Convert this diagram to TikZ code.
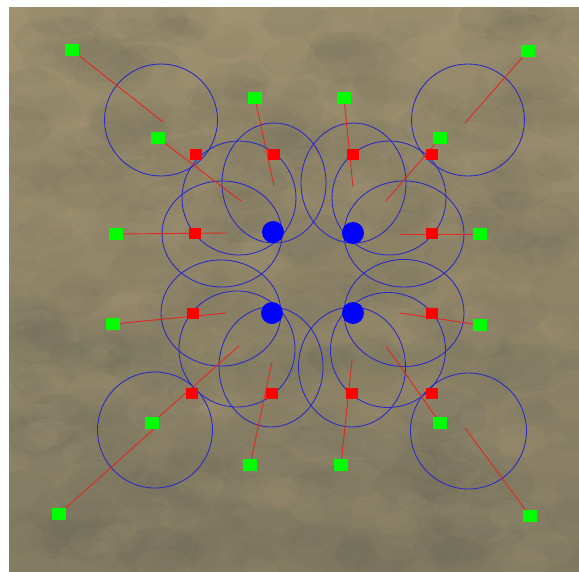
\documentclass[tikz,border=0pt]{standalone}
\begin{document}
\definecolor{bgtop}{RGB}{158,144,112}
\definecolor{bgbot}{RGB}{132,124,98}
\definecolor{camodark}{RGB}{95,98,85}
\definecolor{camolight}{RGB}{188,168,130}
\definecolor{ellblue}{RGB}{40,40,200}
\definecolor{linkred}{RGB}{225,40,35}
\definecolor{gsqcol}{RGB}{0,255,0}
\definecolor{rsqcol}{RGB}{255,0,0}
\begin{tikzpicture}[x=1pt,y=-1pt,
  gsq/.style={fill=gsqcol, minimum width=14pt, minimum height=12pt, inner sep=0pt},
  rsq/.style={fill=rsqcol, minimum width=12pt, minimum height=11pt, inner sep=0pt},
  bdot/.style={circle, fill=blue, minimum size=22pt, inner sep=0pt},
  ell/.style={draw=ellblue, line width=0.85pt},
  link/.style={draw=linkred, line width=0.9pt}]
\useasboundingbox (0,0) rectangle (579,571);
\fill[white] (0,0) rectangle (579,571);
% textured background
\begin{scope}
\clip (9,7) rectangle (579,571);
\shade[top color=bgtop, bottom color=bgbot] (9,7) rectangle (579,571);
\pgfmathsetseed{12}
\foreach \i in {1,...,450}{
  \pgfmathsetmacro\bx{9+570*rnd}
  \pgfmathsetmacro\by{7+564*rnd}
  \pgfmathsetmacro\br{14+30*rnd}
  \pgfmathsetmacro\bry{0.6*\br}
  \fill[camodark, opacity=0.06] (\bx,\by) ellipse [x radius=\br pt, y radius=\bry pt];
}
\foreach \i in {1,...,160}{
  \pgfmathsetmacro\bx{9+570*rnd}
  \pgfmathsetmacro\by{7+564*rnd}
  \pgfmathsetmacro\br{10+20*rnd}
  \pgfmathsetmacro\bry{0.6*\br}
  \fill[camolight, opacity=0.07] (\bx,\by) ellipse [x radius=\br pt, y radius=\bry pt];
}
\end{scope}
% ellipses
\draw[ell] (161,120) ellipse [x radius=56.5pt, y radius=56pt];
\draw[ell] (239,198) ellipse [x radius=57pt, y radius=57pt];
\draw[ell] (274,183) ellipse [x radius=52pt, y radius=60pt];
\draw[ell] (222,234) ellipse [x radius=60pt, y radius=53pt];
\draw[ell] (353.5,183) ellipse [x radius=52.5pt, y radius=60pt];
\draw[ell] (389,198) ellipse [x radius=57pt, y radius=57pt];
\draw[ell] (468,120) ellipse [x radius=56.5pt, y radius=56pt];
\draw[ell] (404,234) ellipse [x radius=60pt, y radius=53pt];
\draw[ell] (221,313) ellipse [x radius=60pt, y radius=53pt];
\draw[ell] (237,349) ellipse [x radius=58pt, y radius=58pt];
\draw[ell] (155,430) ellipse [x radius=57.5pt, y radius=58pt];
\draw[ell] (271,367) ellipse [x radius=52pt, y radius=60pt];
\draw[ell] (352,367) ellipse [x radius=53.5pt, y radius=60pt];
\draw[ell] (388,350) ellipse [x radius=57.5pt, y radius=57.5pt];
\draw[ell] (468.5,431) ellipse [x radius=58pt, y radius=58pt];
\draw[ell] (404,313) ellipse [x radius=60pt, y radius=53.5pt];
% line ends
\coordinate (e1) at (163,122);
\coordinate (e2) at (241,201);
\coordinate (e3) at (274,186);
\coordinate (e4) at (227,233);
\coordinate (e5) at (353,187);
\coordinate (e6) at (386,201);
\coordinate (e7) at (465,123);
\coordinate (e8) at (400,234);
\coordinate (e9) at (226,313);
\coordinate (e10) at (239,346);
\coordinate (e11) at (155,428);
\coordinate (e12) at (272,362);
\coordinate (e13) at (352,360);
\coordinate (e14) at (386,346);
\coordinate (e15) at (465,428);
\coordinate (e16) at (400,313);
% green square positions
\coordinate (p1) at (72,50);
\coordinate (p2) at (158,138);
\coordinate (p3) at (255,98);
\coordinate (p4) at (116,234);
\coordinate (p5) at (344,98);
\coordinate (p6) at (440,138);
\coordinate (p7) at (528,51);
\coordinate (p8) at (480,234);
\coordinate (p9) at (113,324);
\coordinate (p10) at (152,423);
\coordinate (p11) at (59,514);
\coordinate (p12) at (250,465);
\coordinate (p13) at (341,465);
\coordinate (p14) at (440,423);
\coordinate (p15) at (530,516);
\coordinate (p16) at (480,325);
\foreach \k in {1,...,16}{\draw[link] (p\k) -- (e\k);}
% red squares
\node[rsq] (r1) at (196,154) {};
\node[rsq] (r2) at (274,154) {};
\node[rsq] (r3) at (353,154) {};
\node[rsq] (r4) at (432,154) {};
\node[rsq] (r5) at (195,233) {};
\node[rsq] (r6) at (432,233) {};
\node[rsq] (r7) at (193,313) {};
\node[rsq] (r8) at (432,313) {};
\node[rsq] (r9) at (192,393) {};
\node[rsq] (r10) at (272,393) {};
\node[rsq] (r11) at (352,393) {};
\node[rsq] (r12) at (432,393) {};
% green squares
\foreach \k in {1,...,16}{\node[gsq] (g\k) at (p\k) {};}
% blue dots
\node[bdot] (b1) at (273,232) {};
\node[bdot] (b2) at (353,233) {};
\node[bdot] (b3) at (272,313) {};
\node[bdot] (b4) at (353,313) {};
\end{tikzpicture}
\end{document}
